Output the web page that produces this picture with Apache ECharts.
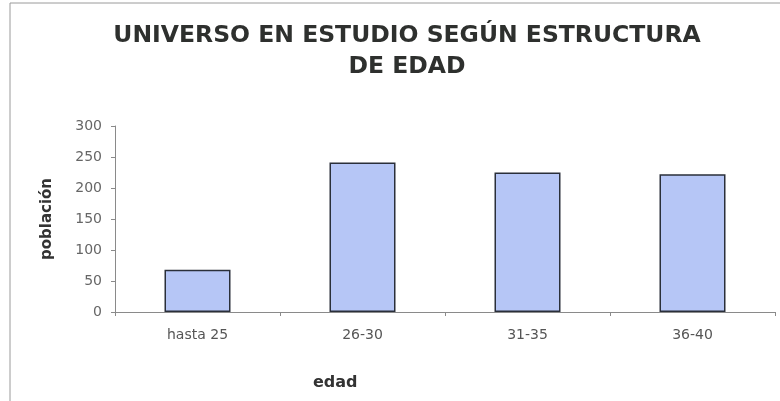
<!DOCTYPE html>
<html><head><meta charset="utf-8">
<script src="https://cdn.jsdelivr.net/npm/echarts@6/dist/echarts.min.js"></script>
<style>html,body{margin:0;padding:0;background:#fff}#c{width:780px;height:401px}</style>
</head><body><div id="c"></div>
<script>
const categories = ['hasta 25', '26-30', '31-35', '36-40'];
const poblacion = [68, 241, 225, 222];
const yTicks = [0, 50, 100, 150, 200, 250, 300];
const titleText = 'UNIVERSO EN ESTUDIO SEGÚN ESTRUCTURA\nDE EDAD';
const xName = 'edad';
const yName = 'población';

const FONT = 'DejaVu Sans, Liberation Sans, sans-serif';
const chart = echarts.init(document.getElementById('c'), null, {renderer: 'canvas'});
chart.setOption({
  backgroundColor: '#ffffff',
  animation: false,
  textStyle: {fontFamily: FONT},
  graphic: [
    {type: 'line', shape: {x1: 10, y1: 3, x2: 780, y2: 3}, style: {stroke: '#9a9a9a', lineWidth: 1}},
    {type: 'line', shape: {x1: 10, y1: 3, x2: 10, y2: 401}, style: {stroke: '#9a9a9a', lineWidth: 1}},
    {type: 'text', left: 313, top: 375, style: {text: xName, font: 'bold 16px DejaVu Sans', fill: '#333'}}
  ],
  title: {
    text: titleText,
    left: 402, top: 15, textAlign: 'center',
    textStyle: {fontSize: 23.5, fontWeight: 'bold', color: '#2e302e', lineHeight: 31, fontFamily: FONT}
  },
  grid: {left: 115, right: 5, top: 126, bottom: 89, containLabel: false},
  xAxis: {
    type: 'category', data: categories,
    axisLine: {lineStyle: {color: '#8a8a8a', width: 1}},
    axisTick: {show: true, alignWithLabel: false, length: 4, lineStyle: {color: '#8a8a8a'}},
    axisLabel: {fontSize: 14, color: '#555', margin: 16, fontFamily: FONT}
  },
  yAxis: {
    type: 'value', min: 0, max: 300, interval: 50,
    name: yName, nameLocation: 'middle', nameGap: 60, nameRotate: 90,
    nameTextStyle: {fontSize: 15, fontWeight: 'bold', color: '#333', fontFamily: FONT},
    axisLine: {show: true, lineStyle: {color: '#8a8a8a', width: 1}},
    axisTick: {show: true, length: 4, lineStyle: {color: '#8a8a8a'}},
    axisLabel: {fontSize: 14, color: '#666', margin: 13, fontFamily: FONT, formatter: v => yTicks.includes(v) ? String(v) : ''},
    splitLine: {show: false}
  },
  series: [{
    type: 'bar', data: poblacion, barWidth: '40%',
    itemStyle: {color: '#b6c6f6', borderColor: '#2a2f3a', borderWidth: 1.5}
  }]
});
</script></body></html>
